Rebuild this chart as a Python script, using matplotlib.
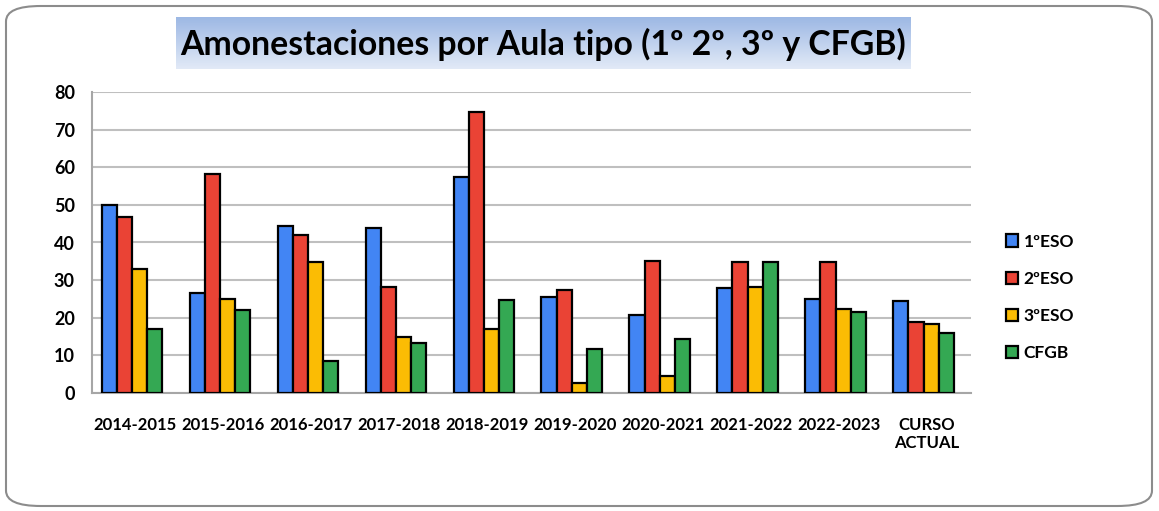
import numpy as np
import matplotlib as mpl
mpl.use("Agg")
import matplotlib.pyplot as plt
from matplotlib.patches import FancyBboxPatch

plt.rcParams['font.family'] = ['Lato', 'DejaVu Sans']

cursos = ['2014-2015', '2015-2016', '2016-2017', '2017-2018', '2018-2019',
          '2019-2020', '2020-2021', '2021-2022', '2022-2023', 'CURSO\nACTUAL']
eso1 = [50, 26.5, 44.5, 43.8, 57.5, 25.4, 20.8, 27.8, 25.1, 24.4]
eso2 = [46.8, 58.3, 42.1, 28.2, 74.8, 27.5, 35.2, 34.7, 34.9, 18.9]
eso3 = [33, 24.9, 34.8, 14.9, 17.1, 2.7, 4.4, 28.3, 22.2, 18.3]
cfgb = [17.1, 22, 8.6, 13.2, 24.7, 11.6, 14.3, 34.7, 21.4, 15.9]

series = [('1ºESO', eso1, '#4285f4'), ('2ºESO', eso2, '#ea4335'),
          ('3ºESO', eso3, '#fbbc04'), ('CFGB', cfgb, '#34a853')]

fig = plt.figure(figsize=(11.59, 5.11), dpi=100)
ax = fig.add_axes([91.5/1159, 1 - 393/511, (971 - 91.5)/1159, 301/511])

# rounded outer frame
frame = FancyBboxPatch((6/1159, 5/511), 1146/1159, 500/511,
                       boxstyle="round,pad=0,rounding_size=0.03",
                       transform=fig.transFigure, fill=False,
                       edgecolor='#8c8c8c', linewidth=1.5, zorder=0)
fig.patches.append(frame)

x = np.arange(len(cursos))
w = 0.172
for i, (name, vals, col) in enumerate(series):
    ax.bar(x + (i - 1.5) * w - 0.04, vals, w, color=col, edgecolor='black',
           linewidth=1.6, label=name, zorder=3)

ax.set_xlim(-0.5, len(cursos) - 0.5)
ax.set_ylim(0, 80)
ax.set_yticks(range(0, 81, 10))
ax.set_xticks(x)
ax.set_xticklabels(cursos)
ax.grid(axis='y', color='#bfbfbf', linewidth=1.5, zorder=0)
for s in ['top', 'right']:
    ax.spines[s].set_visible(False)
ax.spines['left'].set_color('#a6a6a6')
ax.spines['bottom'].set_color('#a6a6a6')
ax.spines['left'].set_linewidth(1.5)
ax.spines['bottom'].set_linewidth(1.5)
ax.tick_params(axis='x', length=0, labelsize=12, pad=17)
ax.tick_params(axis='y', length=0, labelsize=13, pad=12)
for lab in ax.get_xticklabels() + ax.get_yticklabels():
    lab.set_fontweight('bold')

# title with gradient background
tax = fig.add_axes([176/1159, 1 - 69/511, (911 - 176)/1159, 52/511])
grad = np.linspace(0, 1, 100).reshape(-1, 1)
cmap = mpl.colors.LinearSegmentedColormap.from_list('g', ['#9db8e4', '#e2eaf7'])
tax.imshow(grad, aspect='auto', cmap=cmap, extent=[0, 1, 0, 1])
tax.set_axis_off()
tax.text(0.5, 0.47, 'Amonestaciones por Aula tipo (1º 2º, 3º y CFGB)',
         ha='center', va='center', fontsize=24.3, fontweight='bold',
         transform=tax.transAxes)

leg = ax.legend(loc='upper left', bbox_to_anchor=(990/1159, 1 - 218/511),
                bbox_transform=fig.transFigure, frameon=False,
                handlelength=0.7, handleheight=0.7, handletextpad=0.35,
                labelspacing=1.22, prop={'size': 12.5, 'weight': 'bold'})

fig.savefig('out.png', dpi=100)
